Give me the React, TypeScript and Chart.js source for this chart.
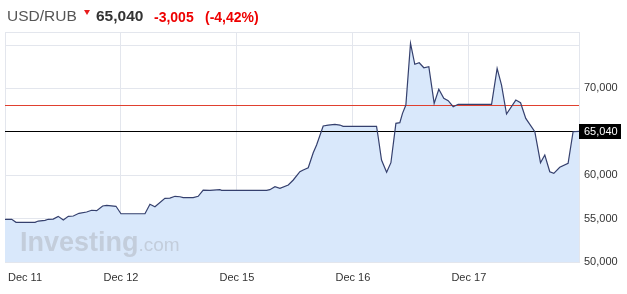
import React, { useEffect, useRef } from "react";
import { Chart, registerables } from "chart.js";
Chart.register(...registerables);

const pairName = "USD/RUB";
const lastPrice = 65.04;
const priceChange = -3.005;
const percentChange = -4.42;
const previousClose = 68.045;

const dayTickValues = [0, 1, 2, 3, 4];
const dayTickLabels = ["Dec 11", "Dec 12", "Dec 15", "Dec 16", "Dec 17"];
const xMin = 0;
const xMax = 4.95;

const yMin = 50;
const yMax = 76.5;
const yGridValues = [50, 55, 60, 65, 70, 75, 76.5];
const yLabelValues = [50, 55, 60, 70];

const times = [
  0, 0.058, 0.095, 0.259, 0.287, 0.345, 0.373, 0.416, 0.459, 0.503,
  0.546, 0.589, 0.638, 0.704, 0.747, 0.791, 0.842, 0.877, 0.957, 1.0,
  1.207, 1.25, 1.293, 1.379, 1.422, 1.466, 1.509, 1.537, 1.623, 1.666,
  1.709, 1.767, 1.853, 1.868, 2.256, 2.284, 2.328, 2.371, 2.443, 2.486,
  2.543, 2.572, 2.615, 2.658, 2.687, 2.744, 2.787, 2.845, 2.888, 2.916,
  3.204, 3.218, 3.247, 3.291, 3.328, 3.371, 3.405, 3.428, 3.457, 3.497,
  3.534, 3.572, 3.612, 3.655, 3.701, 3.741, 3.784, 3.822, 3.865, 3.908,
  4.196, 4.244, 4.282, 4.325, 4.405, 4.446, 4.491, 4.569, 4.618, 4.655,
  4.698, 4.733, 4.784, 4.856, 4.899, 4.95,
];

const prices = [
  54.92, 54.92, 54.57, 54.57, 54.72, 54.8, 54.92, 54.95, 55.26, 54.84,
  55.26, 55.3, 55.61, 55.76, 55.96, 55.91, 56.45, 56.53, 56.42, 55.56,
  55.56, 56.65, 56.37, 57.34, 57.37, 57.57, 57.52, 57.41, 57.41, 57.57,
  58.29, 58.26, 58.33, 58.26, 58.26, 58.33, 58.67, 58.49, 58.87, 59.45,
  60.4, 60.6, 60.86, 62.59, 63.48, 65.67, 65.78, 65.86, 65.78, 65.63,
  65.63, 64.43, 61.75, 60.33, 61.44, 65.98, 66.05, 67.13, 68.09, 75.19,
  72.78, 72.96, 72.38, 72.5, 68.28, 69.9, 68.86, 68.58, 67.89, 68.17,
  68.17, 72.31, 70.39, 67.05, 68.66, 68.35, 66.55, 65.01, 61.44, 62.33,
  60.4, 60.22, 60.91, 61.37, 65.01, 65.04,
];

const FONT = '"Liberation Sans", Arial, sans-serif';
const fmt3 = (v: number) => v.toFixed(3).replace(".", ",");
const fmt2 = (v: number) => v.toFixed(2).replace(".", ",");

const watermarkPlugin = {
  id: "watermark",
  beforeDatasetsDraw(chart: any) {
    const { ctx, chartArea } = chart;
    ctx.save();
    ctx.textBaseline = "alphabetic";
    ctx.textAlign = "left";
    ctx.fillStyle = "#c3cddb";
    ctx.font = `bold 27px ${FONT}`;
    const x0 = chartArea.left + 15;
    const base = chartArea.bottom - 11;
    ctx.fillText("Investing", x0, base);
    const w = ctx.measureText("Investing").width;
    ctx.font = `19px ${FONT}`;
    ctx.fillText(".com", x0 + w, base);

    // reference lines: previous close (red) and last price (black)
    const ys = chart.scales.y;
    const refs = [
      { v: previousClose, c: "#e0402f" },
      { v: lastPrice, c: "#000000" },
    ];
    ctx.lineWidth = 1;
    refs.forEach((r) => {
      const y = Math.round(ys.getPixelForValue(r.v)) + 0.5;
      ctx.strokeStyle = r.c;
      ctx.beginPath();
      ctx.moveTo(chartArea.left, y);
      ctx.lineTo(chartArea.right, y);
      ctx.stroke();
    });
    ctx.restore();
  },
};

const xLabelsPlugin = {
  id: "xLabels",
  afterDraw(chart: any) {
    const { ctx, chartArea } = chart;
    const xs = chart.scales.x;
    ctx.save();
    ctx.font = `11px ${FONT}`;
    ctx.fillStyle = "#333333";
    ctx.textBaseline = "middle";
    ctx.textAlign = "left";
    dayTickValues.forEach((v, i) => {
      const label = dayTickLabels[i];
      const px = xs.getPixelForValue(v);
      const w = ctx.measureText(label).width;
      const left = Math.max(px - w / 2, chartArea.left + 3);
      ctx.fillText(label, left, chartArea.bottom + 16);
    });
    ctx.restore();
  },
};

const priceTagPlugin = {
  id: "priceTag",
  afterDraw(chart: any) {
    const { ctx, chartArea } = chart;
    const y = Math.round(chart.scales.y.getPixelForValue(lastPrice));
    ctx.save();
    ctx.fillStyle = "#000000";
    ctx.fillRect(chartArea.right, y - 7, 42, 15);
    ctx.fillStyle = "#ffffff";
    ctx.font = `11px ${FONT}`;
    ctx.textBaseline = "middle";
    ctx.textAlign = "left";
    ctx.fillText(fmt3(lastPrice), chartArea.right + 5, y + 0.5);
    ctx.restore();
  },
};

function PriceChart() {
  const ref = useRef<HTMLCanvasElement | null>(null);
  useEffect(() => {
    if (!ref.current) return;
    const chart = new Chart(ref.current, {
      type: "line",
      data: {
        datasets: [
          {
            data: times.map((t, i) => ({ x: t, y: prices[i] })),
            borderColor: "#35406e",
            borderWidth: 1.2,
            backgroundColor: "#d9e8fb",
            fill: "start",
            pointRadius: 0,
            tension: 0,
          },
        ],
      },
      options: {
        animation: false,
        responsive: false,
        devicePixelRatio: 1,
        layout: { padding: { left: 5, top: 32, right: 0, bottom: 0 } },
        plugins: {
          legend: { display: false },
          tooltip: { enabled: false },
          filler: { drawTime: "beforeDatasetsDraw" },
        },
        scales: {
          x: {
            type: "linear",
            min: xMin,
            max: xMax,
            afterBuildTicks: (s: any) => {
              s.ticks = dayTickValues.map((v) => ({ value: v }));
            },
            afterFit: (s: any) => {
              s.height = 32;
            },
            grid: { color: "#e3e6ed", drawTicks: false, lineWidth: 1 },
            border: { color: "#e3e6ed" },
            ticks: { display: false },
          },
          y: {
            position: "right",
            min: yMin,
            max: yMax,
            afterBuildTicks: (s: any) => {
              s.ticks = yGridValues.map((v) => ({ value: v }));
            },
            afterFit: (s: any) => {
              s.width = 48;
            },
            grid: { color: "#e3e6ed", drawTicks: false, lineWidth: 1 },
            border: { color: "#e3e6ed" },
            ticks: {
              padding: 5,
              color: "#333333",
              font: { family: FONT, size: 11 },
              callback: (v: any) => (yLabelValues.includes(v) ? fmt3(v) : ""),
            },
          },
        },
      },
      plugins: [watermarkPlugin, xLabelsPlugin, priceTagPlugin],
    } as any);
    return () => chart.destroy();
  }, []);
  return (
    <canvas
      ref={ref}
      width={627}
      height={294}
      style={{ position: "absolute", left: 0, top: 0, width: 627, height: 294 }}
    />
  );
}

function HeaderText({ left, baseline, size, bold, color, children }: any) {
  return (
    <div
      style={{
        position: "absolute",
        left,
        top: baseline - 0.8465 * size,
        fontSize: size,
        lineHeight: `${size}px`,
        fontWeight: bold ? "bold" : "normal",
        color,
        fontFamily: FONT,
        whiteSpace: "nowrap",
      }}
    >
      {children}
    </div>
  );
}

export default function App() {
  return (
    <div
      style={{
        position: "fixed",
        left: 0,
        top: 0,
        width: 627,
        height: 294,
        background: "#ffffff",
        overflow: "hidden",
      }}
    >
      <PriceChart />
      <HeaderText left={7} baseline={21.5} size={15.5} color="#555555">
        {pairName}
      </HeaderText>
      <div
        style={{
          position: "absolute",
          left: 84,
          top: 10,
          width: 0,
          height: 0,
          borderLeft: "3.5px solid transparent",
          borderRight: "3.5px solid transparent",
          borderTop: "5px solid #e81c1c",
        }}
      />
      <HeaderText left={96} baseline={21.5} size={15.5} bold color="#333333">
        {fmt3(lastPrice)}
      </HeaderText>
      <HeaderText left={154} baseline={21.5} size={14} bold color="#ee0000">
        {fmt3(priceChange)}
      </HeaderText>
      <HeaderText left={205} baseline={21.5} size={14} bold color="#ee0000">
        {`(${fmt2(percentChange)}%)`}
      </HeaderText>
    </div>
  );
}
